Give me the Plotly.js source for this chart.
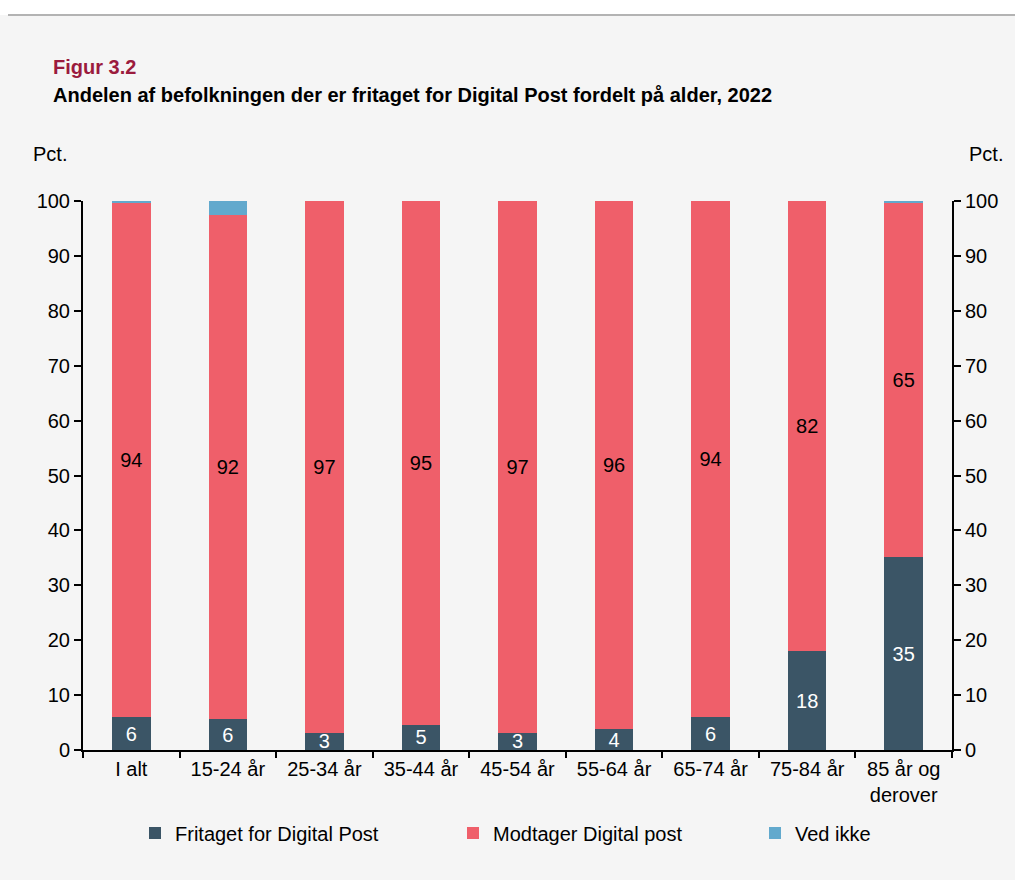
<!DOCTYPE html>
<html>
<head>
<meta charset="utf-8">
<script src="https://cdn.plot.ly/plotly-3.0.1.min.js"></script>
<style>
  html, body { margin: 0; padding: 0; background: #ffffff; }
  #chart { width: 1015px; height: 880px; }
</style>
</head>
<body>
<div id="chart"></div>
<script>
// Age groups
const categories = [
  "I alt", "15-24 år", "25-34 år", "35-44 år", "45-54 år",
  "55-64 år", "65-74 år", "75-84 år", "85 år og<br>derover"
];

// Shares in percent
const fritaget  = [6.0, 5.6, 3.1, 4.6, 3.1, 3.8, 6.0, 18.0, 35.1];
const modtager  = [93.6, 91.9, 96.9, 95.4, 96.9, 96.2, 94.0, 82.0, 64.6];
const vedIkke   = [0.4, 2.5, 0.0, 0.0, 0.0, 0.0, 0.0, 0.0, 0.3];

const yTicks = [0, 10, 20, 30, 40, 50, 60, 70, 80, 90, 100];

const FONT = "'Liberation Sans', Arial, sans-serif";

// plot area in pixels, used to place annotations around it
const plotTop = 201, plotBottom = 750, plotLeft = 83, plotRight = 952;
const plotH = plotBottom - plotTop, plotW = plotRight - plotLeft;
const py = (p) => (plotBottom - p) / plotH;
const px = (p) => (p - plotLeft) / plotW;

const traceFritaget = {
  x: categories,
  y: fritaget,
  type: "bar",
  name: "Fritaget for Digital Post",
  legend: "legend",
  marker: { color: "#3b5566" },
  texttemplate: "%{y:.0f}",
  textposition: "inside",
  insidetextanchor: "middle",
  textangle: 0,
  constraintext: "none",
  textfont: { color: "#ffffff", size: 20, family: FONT },
  hoverinfo: "none",
};

const traceModtager = {
  x: categories,
  y: modtager,
  type: "bar",
  name: "Modtager Digital post",
  legend: "legend2",
  marker: { color: "#ef5f6a" },
  texttemplate: "%{y:.0f}",
  textposition: "inside",
  insidetextanchor: "middle",
  textangle: 0,
  constraintext: "none",
  textfont: { color: "#000000", size: 20, family: FONT },
  hoverinfo: "none",
};

const traceVedIkke = {
  x: categories,
  y: vedIkke,
  type: "bar",
  name: "Ved ikke",
  legend: "legend3",
  marker: { color: "#62a9cd" },
  textposition: "none",
  hoverinfo: "none",
};

// invisible copy so the right-hand axis gets drawn
const traceRight = {
  x: categories,
  y: fritaget,
  type: "scatter",
  mode: "markers",
  yaxis: "y2",
  marker: { opacity: 0 },
  showlegend: false,
  hoverinfo: "none",
};

const axisStyle = {
  range: [0, 100],
  tickvals: yTicks,
  ticks: "outside",
  ticklen: 7,
  tickwidth: 2,
  tickcolor: "#000",
  showline: true,
  linecolor: "#000",
  linewidth: 2,
  showgrid: false,
  zeroline: false,
  tickfont: { size: 20, color: "#000", family: FONT },
  fixedrange: true,
};

const legendStyle = (left) => ({
  orientation: "h",
  x: px(left),
  xanchor: "left",
  y: py(833),
  yanchor: "middle",
  font: { size: 20, family: FONT, color: "#000" },
  bgcolor: "rgba(0,0,0,0)",
});

const layout = {
  width: 1015,
  height: 880,
  margin: { l: plotLeft, r: 1015 - plotRight, t: plotTop, b: 880 - plotBottom },
  paper_bgcolor: "#f5f5f5",
  plot_bgcolor: "#f5f5f5",
  barmode: "stack",
  bargap: 0.6,
  font: { family: FONT, color: "#000" },
  showlegend: true,
  legend: legendStyle(135),
  legend2: legendStyle(453),
  legend3: legendStyle(755),
  xaxis: {
    type: "category",
    tickson: "boundaries",
    ticks: "outside",
    ticklen: 6,
    tickwidth: 2,
    tickcolor: "#000",
    showline: true,
    linecolor: "#000",
    linewidth: 2,
    showgrid: false,
    tickfont: { size: 20, color: "#000", family: FONT },
    fixedrange: true,
  },
  yaxis: Object.assign({}, axisStyle, { side: "left" }),
  yaxis2: Object.assign({}, axisStyle, { side: "right", overlaying: "y", anchor: "x" }),
  shapes: [
    { type: "rect", xref: "paper", yref: "paper", x0: px(0), x1: px(1015), y0: py(0), y1: py(15),
      fillcolor: "#ffffff", line: { width: 0 }, layer: "below" },
    { type: "line", xref: "paper", yref: "paper", x0: px(8), x1: px(1015), y0: py(15), y1: py(15),
      line: { color: "#b3b3b3", width: 2 } },
  ],
  annotations: [
    { text: "<b>Figur 3.2</b>", xref: "paper", yref: "paper", x: px(51), y: py(67),
      xanchor: "left", yanchor: "middle", showarrow: false,
      font: { size: 20, color: "#9b1b3d", family: FONT } },
    { text: "<b>Andelen af befolkningen der er fritaget for Digital Post fordelt på alder, 2022</b>",
      xref: "paper", yref: "paper", x: px(51), y: py(95),
      xanchor: "left", yanchor: "middle", showarrow: false,
      font: { size: 20, color: "#000", family: FONT } },
    { text: "Pct.", xref: "paper", yref: "paper", x: px(31), y: py(154),
      xanchor: "left", yanchor: "middle", showarrow: false,
      font: { size: 20, color: "#000", family: FONT } },
    { text: "Pct.", xref: "paper", yref: "paper", x: px(1005), y: py(154),
      xanchor: "right", yanchor: "middle", showarrow: false,
      font: { size: 20, color: "#000", family: FONT } },
  ],
};

Plotly.newPlot("chart", [traceFritaget, traceModtager, traceVedIkke, traceRight], layout, {
  displayModeBar: false,
  staticPlot: true,
});
</script>
</body>
</html>
